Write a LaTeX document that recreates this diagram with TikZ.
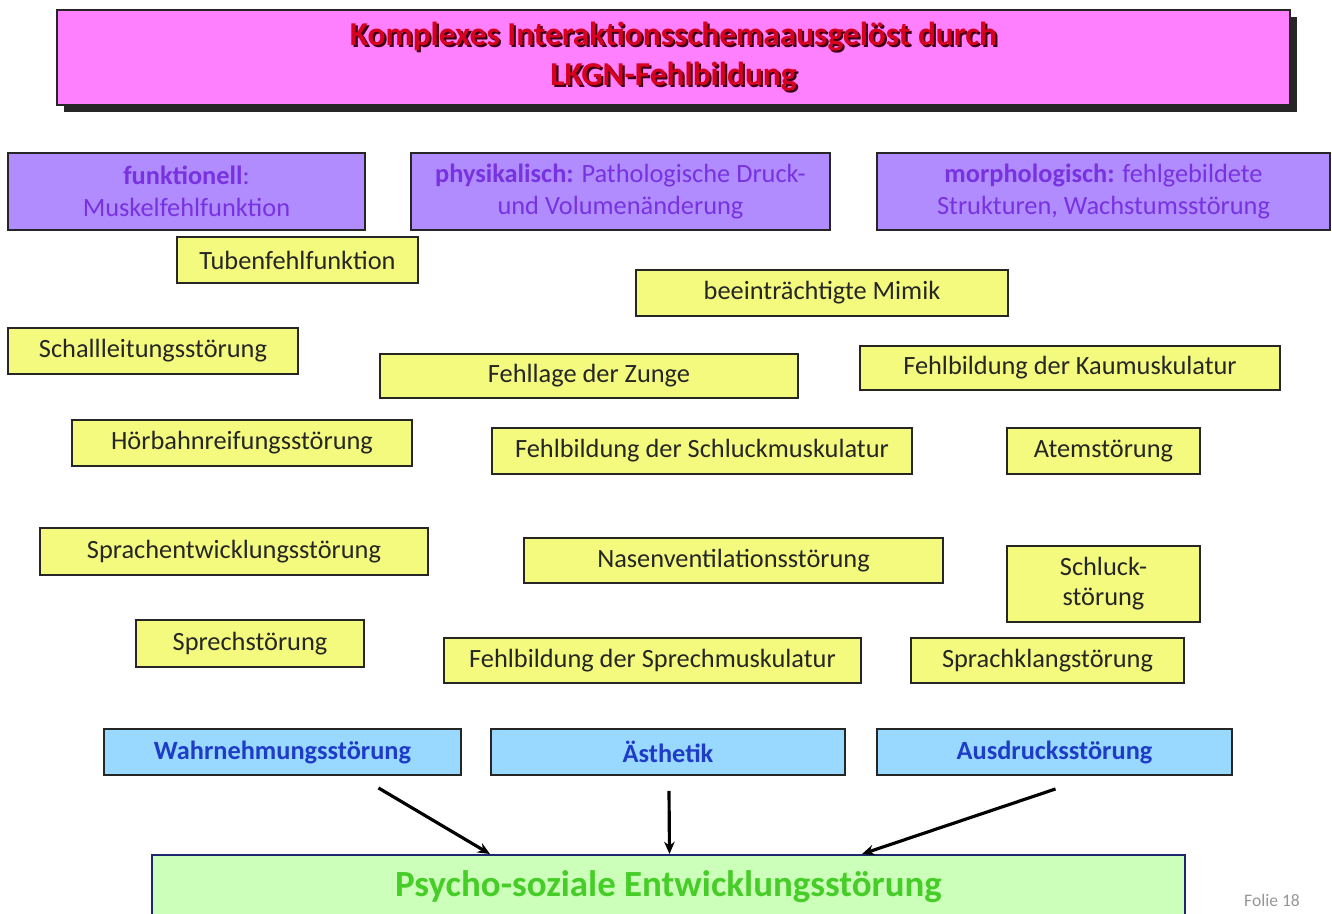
\documentclass[tikz,border=0pt]{standalone}
\usepackage{fontspec}
\setmainfont{Carlito}
\usepackage{tikz}
\usetikzlibrary{arrows.meta,shadows}

\definecolor{titlepink}{RGB}{255,128,255}
\definecolor{titlered}{RGB}{215,0,30}
\definecolor{titleshadow}{RGB}{60,0,20}
\definecolor{boxpurple}{RGB}{176,140,255}
\definecolor{textpurple}{RGB}{120,50,225}
\definecolor{boxyellow}{RGB}{243,250,125}
\definecolor{boxblue}{RGB}{153,217,255}
\definecolor{textblue}{RGB}{30,60,200}
\definecolor{boxgreen}{RGB}{204,255,185}
\definecolor{textgreen}{RGB}{70,205,40}
\definecolor{rimblue}{RGB}{30,40,110}
\definecolor{foliegray}{RGB}{150,150,150}

% red title text with a dark shadow behind it
\newcommand{\schatten}[1]{\makebox[0pt][l]{\hspace{1.2pt}\raisebox{-1.2pt}{\color{titleshadow}#1}}#1}

\tikzset{
  kasten/.style={draw=black!85, line width=1.1pt, inner sep=2pt, align=center},
  titelbox/.style={kasten, fill=titlepink, text=titlered,
    drop shadow={shadow xshift=4pt, shadow yshift=-4pt, fill=black!85, opacity=1},
    font=\fontsize{19}{23}\selectfont\bfseries},
  ursache/.style={kasten, fill=boxpurple, text=textpurple,
    font=\fontsize{15}{18}\selectfont},
  stoerung/.style={kasten, fill=boxyellow, text=black!85,
    font=\fontsize{15}{17}\selectfont},
  folge/.style={kasten, fill=boxblue, text=textblue, minimum height=0.92cm,
    font=\fontsize{15}{17}\selectfont\bfseries},
  ziel/.style={kasten, draw=rimblue, fill=boxgreen, text=textgreen,
    font=\fontsize{21}{25}\selectfont\bfseries},
  pfeil/.style={line width=1.8pt, -{Stealth[length=7pt,width=6pt]}},
}

\begin{document}
\begin{tikzpicture}
    \useasboundingbox (0,0) rectangle (26.64,-18.28);
    \clip (0,0) rectangle (26.64,-18.28);

    % title
    \node[titelbox, minimum width=24.66cm, minimum height=1.9cm] (titel) at (13.47,-1.15)
        {\schatten{Komplexes Interaktionsschemaausgelöst durch}\\\schatten{LKGN-Fehlbildung}};

    % three kinds of cause
    \node[ursache, minimum width=7.14cm, minimum height=1.54cm] (funk) at (3.73,-3.83)
        {\textbf{funktionell}:\\Muskelfehlfunktion};
    \node[ursache, minimum width=8.38cm, minimum height=1.54cm] (phys) at (12.41,-3.83)
        {\textbf{physikalisch:} Pathologische Druck-\\und Volumenänderung};
    \node[ursache, minimum width=9.06cm, minimum height=1.54cm] (morph) at (22.07,-3.83)
        {\textbf{morphologisch:} fehlgebildete\\Strukturen, Wachstumsstörung};

    % single disorders
    \node[stoerung, minimum width=4.82cm, minimum height=0.92cm] (tube) at (5.95,-5.2) {Tubenfehlfunktion};
    \node[stoerung, minimum width=7.44cm, minimum height=0.92cm] (mimik) at (16.44,-5.86) {beeinträchtigte Mimik};
    \node[stoerung, minimum width=5.8cm, minimum height=0.92cm] (schall) at (3.06,-7.02) {Schallleitungsstörung};
    \node[stoerung, minimum width=8.36cm, minimum height=0.88cm] (zunge) at (11.78,-7.52) {Fehllage der Zunge};
    \node[stoerung, minimum width=8.4cm, minimum height=0.88cm] (kau) at (21.4,-7.36) {Fehlbildung der Kaumuskulatur};
    \node[stoerung, minimum width=6.8cm, minimum height=0.92cm] (hoer) at (4.84,-8.86) {Hörbahnreifungsstörung};
    \node[stoerung, minimum width=8.4cm, minimum height=0.92cm] (schluckm) at (14.04,-9.02) {Fehlbildung der Schluckmuskulatur};
    \node[stoerung, minimum width=3.86cm, minimum height=0.92cm] (atem) at (22.07,-9.02) {Atemstörung};
    \node[stoerung, minimum width=7.76cm, minimum height=0.94cm] (sprachent) at (4.68,-11.03) {Sprachentwicklungsstörung};
    \node[stoerung, minimum width=8.38cm, minimum height=0.9cm] (nase) at (14.67,-11.21) {Nasenventilationsstörung};
    \node[stoerung, minimum width=3.86cm, minimum height=1.52cm] (schluck) at (22.07,-11.68) {Schluck-\\störung};
    \node[stoerung, minimum width=4.56cm, minimum height=0.94cm] (sprech) at (5.0,-12.87) {Sprechstörung};
    \node[stoerung, minimum width=8.34cm, minimum height=0.9cm] (sprechm) at (13.05,-13.21) {Fehlbildung der Sprechmuskulatur};
    \node[stoerung, minimum width=5.46cm, minimum height=0.9cm] (klang) at (20.95,-13.21) {Sprachklangstörung};

    % consequences
    \node[folge, minimum width=7.14cm] (wahr) at (5.65,-15.04) {Wahrnehmungsstörung};
    \node[folge, minimum width=7.08cm] (aesth) at (13.36,-15.04) {Ästhetik};
    \node[folge, minimum width=7.1cm] (ausdr) at (21.09,-15.04) {Ausdrucksstörung};

    \node[ziel, minimum width=20.66cm, minimum height=1.28cm] (psy) at (13.37,-17.74)
        {Psycho-soziale Entwicklungsstörung};

    \draw[pfeil] ([xshift=1.92cm,yshift=-0.24cm]wahr.south) -- ([xshift=-3.57cm]psy.north);
    \draw[pfeil] ([xshift=0.02cm,yshift=-0.3cm]aesth.south) -- ([xshift=0.02cm]psy.north);
    \draw[pfeil] ([xshift=0.02cm,yshift=-0.26cm]ausdr.south) -- ([xshift=3.87cm]psy.north);

    \node[text=foliegray, font=\fontsize{10}{12}\selectfont] (folie) at (25.44,-18.0) {Folie 18};
\end{tikzpicture}
\end{document}
